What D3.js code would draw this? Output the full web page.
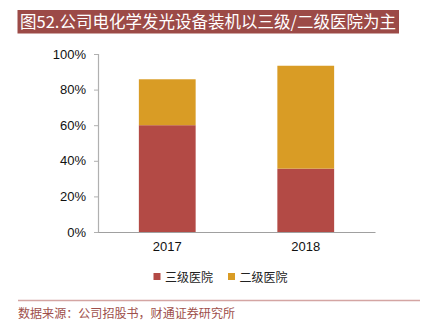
<!DOCTYPE html>
<html><head><meta charset="utf-8">
<script src="https://cdn.jsdelivr.net/npm/d3@7"></script>
<style>
html,body{margin:0;padding:0;background:#fff;}
svg{display:block;}
</style></head>
<body>
<script>
const title = "图52.公司电化学发光设备装机以三级/二级医院为主";
const source = "数据来源：公司招股书，财通证券研究所";
const categories = ["2017", "2018"];
const seriesNames = ["三级医院", "二级医院"];
const tertiary = [0.600, 0.356];
const secondary = [0.258, 0.578];
const yTicks = [0, 0.2, 0.4, 0.6, 0.8, 1.0];
const colors = ["#b34a45", "#d99c25"];

const W = 427, H = 322;
const svg = d3.select("body").append("svg").attr("width", W).attr("height", H);

// title bar
svg.append("rect").attr("x", 17.5).attr("y", 10).attr("width", 381.5).attr("height", 23.5).attr("fill", "#9c4a47");
svg.append("text").attr("x", 20).attr("y", 28).attr("fill", "#fff")
  .attr("font-family", "'Noto Sans CJK SC', sans-serif").attr("font-size", 16.5)
  .attr("textLength", 376).attr("lengthAdjust", "spacingAndGlyphs").text(title);

const x = d3.scaleBand().domain(categories).range([98, 375]).paddingInner(0.59).paddingOuter(0.295);
const y = d3.scaleLinear().domain([0, 1]).range([232, 54]);

const rows = categories.map((c, i) => ({cat: c, [seriesNames[0]]: tertiary[i], [seriesNames[1]]: secondary[i]}));
const stacked = d3.stack().keys(seriesNames)(rows);

svg.append("g").selectAll("g").data(stacked).join("g")
  .attr("fill", (d, i) => colors[i])
  .selectAll("rect").data(d => d).join("rect")
  .attr("x", d => x(d.data.cat))
  .attr("width", x.bandwidth())
  .attr("y", d => y(d[1]))
  .attr("height", d => y(d[0]) - y(d[1]));

// y axis
const yAxis = svg.append("g").attr("transform", "translate(98,0)")
  .call(d3.axisLeft(y).tickValues(yTicks).tickFormat(d3.format(".0%")).tickSize(4).tickPadding(8));
yAxis.select(".domain").attr("stroke", "#b0b0b0").attr("stroke-width", 1.2);
yAxis.selectAll(".tick line").attr("stroke", "#b0b0b0");
yAxis.selectAll("text").attr("font-family", "'Liberation Sans', Arial, sans-serif").attr("font-size", 13).attr("fill", "#111");

// x axis
const xAxis = svg.append("g").attr("transform", "translate(0,232)")
  .call(d3.axisBottom(x).tickSize(0).tickPadding(10));
xAxis.select(".domain").attr("stroke", "#a0a0a0").attr("stroke-width", 1.2);
xAxis.selectAll("text").attr("font-family", "'Liberation Sans', Arial, sans-serif").attr("font-size", 13).attr("fill", "#111");

// legend
const legendX = [153.5, 228];
seriesNames.forEach((n, i) => {
  svg.append("rect").attr("x", legendX[i]).attr("y", 273).attr("width", 7).attr("height", 7).attr("fill", colors[i]);
  svg.append("text").attr("x", legendX[i] + 11.5).attr("y", 281.5)
    .attr("font-family", "'Noto Sans CJK SC', sans-serif").attr("font-size", 12).attr("fill", "#222")
    .attr("textLength", 48).attr("lengthAdjust", "spacingAndGlyphs").text(n);
});

// bottom rule and source
svg.append("line").attr("x1", 18).attr("x2", 420).attr("y1", 300.5).attr("y2", 300.5)
  .attr("stroke", "#d4a5a3").attr("stroke-width", 1.5);
svg.append("text").attr("x", 18).attr("y", 318)
  .attr("font-family", "'Noto Sans CJK SC', sans-serif").attr("font-size", 12).attr("fill", "#9e4f4b")
  .attr("textLength", 217).attr("lengthAdjust", "spacingAndGlyphs").text(source);
</script>
</body></html>
